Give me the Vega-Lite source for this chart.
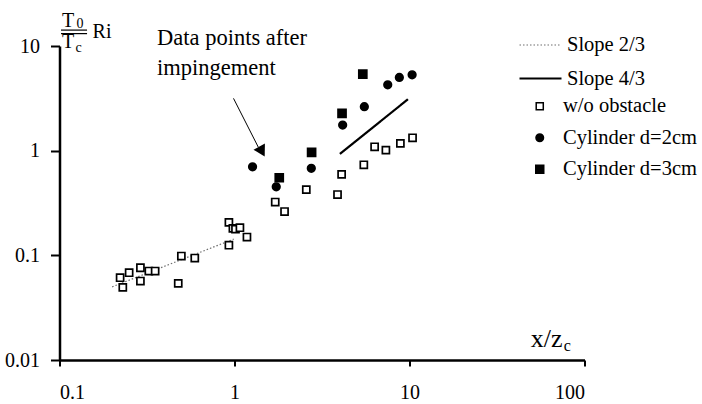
{
  "$schema": "https://vega.github.io/schema/vega-lite/v6.json",
  "width": 525,
  "height": 314,
  "autosize": {"type": "none"},
  "padding": {"left": 59.5, "top": 46, "right": 117.5, "bottom": 44},
  "background": "white",
  "config": {
    "view": {"stroke": null},
    "font": "Liberation Serif",
    "axis": {"grid": false, "domainColor": "black", "domainWidth": 2.5, "tickColor": "black", "tickWidth": 2, "labelFont": "Liberation Serif", "labelFontSize": 20, "labelColor": "black", "title": null},
    "legend": {"labelFont": "Liberation Serif", "labelFontSize": 20.5, "labelColor": "black", "padding": 0}
  },
  "encoding": {
    "x": {"field": "x", "type": "quantitative", "scale": {"type": "log", "domain": [0.1, 100]},
      "axis": {"values": [0.1, 1, 10, 100], "format": "~g", "tickSize": 6, "labelPadding": 16, "title": null,
        "encode": {"ticks": {"update": {"y": {"value": -8}}}}}},
    "y": {"field": "y", "type": "quantitative", "scale": {"type": "log", "domain": [0.01, 10]},
      "axis": {"values": [0.01, 0.1, 1, 10], "format": "~g", "tickSize": 9, "labelPadding": 11, "title": null,
        "encode": {"ticks": {"update": {"x": {"value": 8}}}}}}
  },
  "layer": [
    {
      "data": {"values": [
        {"line": "Slope 2/3", "x": 0.2, "y": 0.05},
        {"line": "Slope 2/3", "x": 0.99, "y": 0.143},
        {"line": "Slope 4/3", "x": 4.0, "y": 0.93},
        {"line": "Slope 4/3", "x": 9.8, "y": 3.1}
      ]},
      "mark": {"type": "line"},
      "encoding": {
        "stroke": {"field": "line", "type": "nominal", "scale": {"domain": ["Slope 2/3", "Slope 4/3"], "range": ["#6e6e6e", "black"]},
          "legend": {"title": null, "orient": "none", "legendX": 458.5, "legendY": -23, "symbolType": "stroke", "symbolSize": 1764, "labelOffset": 4, "rowPadding": -4}},
        "strokeDash": {"field": "line", "type": "nominal", "scale": {"domain": ["Slope 2/3", "Slope 4/3"], "range": [[1.5, 2], [1, 0]]}, "legend": {"title": null}},
        "strokeWidth": {"field": "line", "type": "nominal", "scale": {"domain": ["Slope 2/3", "Slope 4/3"], "range": [1.2, 2.2]}, "legend": {"title": null}}
      }
    },
    {
      "data": {"values": [
        {"kind": "w/o obstacle", "x": 0.222, "y": 0.0611},
        {"kind": "w/o obstacle", "x": 0.230, "y": 0.0494},
        {"kind": "w/o obstacle", "x": 0.250, "y": 0.0682},
        {"kind": "w/o obstacle", "x": 0.290, "y": 0.0761},
        {"kind": "w/o obstacle", "x": 0.290, "y": 0.0568},
        {"kind": "w/o obstacle", "x": 0.324, "y": 0.0708},
        {"kind": "w/o obstacle", "x": 0.352, "y": 0.0708},
        {"kind": "w/o obstacle", "x": 0.477, "y": 0.0540},
        {"kind": "w/o obstacle", "x": 0.497, "y": 0.0985},
        {"kind": "w/o obstacle", "x": 0.593, "y": 0.0942},
        {"kind": "w/o obstacle", "x": 0.929, "y": 0.2065},
        {"kind": "w/o obstacle", "x": 0.979, "y": 0.181},
        {"kind": "w/o obstacle", "x": 1.013, "y": 0.178},
        {"kind": "w/o obstacle", "x": 1.074, "y": 0.1835},
        {"kind": "w/o obstacle", "x": 0.929, "y": 0.125},
        {"kind": "w/o obstacle", "x": 1.178, "y": 0.1496},
        {"kind": "w/o obstacle", "x": 1.709, "y": 0.323},
        {"kind": "w/o obstacle", "x": 1.932, "y": 0.262},
        {"kind": "w/o obstacle", "x": 2.572, "y": 0.425},
        {"kind": "w/o obstacle", "x": 3.879, "y": 0.381},
        {"kind": "w/o obstacle", "x": 4.094, "y": 0.594},
        {"kind": "w/o obstacle", "x": 5.483, "y": 0.733},
        {"kind": "w/o obstacle", "x": 6.32, "y": 1.089},
        {"kind": "w/o obstacle", "x": 7.33, "y": 1.013},
        {"kind": "w/o obstacle", "x": 8.87, "y": 1.174},
        {"kind": "w/o obstacle", "x": 10.41, "y": 1.328},
        {"kind": "Cylinder d=2cm", "x": 1.268, "y": 0.701},
        {"kind": "Cylinder d=2cm", "x": 1.732, "y": 0.452},
        {"kind": "Cylinder d=2cm", "x": 2.747, "y": 0.678},
        {"kind": "Cylinder d=2cm", "x": 4.15, "y": 1.756},
        {"kind": "Cylinder d=2cm", "x": 5.52, "y": 2.63},
        {"kind": "Cylinder d=2cm", "x": 7.51, "y": 4.26},
        {"kind": "Cylinder d=2cm", "x": 8.75, "y": 5.01},
        {"kind": "Cylinder d=2cm", "x": 10.35, "y": 5.31},
        {"kind": "Cylinder d=3cm", "x": 1.802, "y": 0.551},
        {"kind": "Cylinder d=3cm", "x": 2.758, "y": 0.965},
        {"kind": "Cylinder d=3cm", "x": 4.116, "y": 2.27},
        {"kind": "Cylinder d=3cm", "x": 5.41, "y": 5.39}
      ]},
      "mark": {"type": "point", "stroke": "black", "strokeWidth": 1.7, "opacity": 1},
      "encoding": {
        "shape": {"field": "kind", "type": "nominal", "scale": {"domain": ["w/o obstacle", "Cylinder d=2cm", "Cylinder d=3cm"], "range": ["square", "circle", "square"]},
          "legend": {"title": null, "orient": "none", "legendX": 470, "legendY": 50, "labelOffset": 13, "rowPadding": 10.5}},
        "fill": {"field": "kind", "type": "nominal", "scale": {"domain": ["w/o obstacle", "Cylinder d=2cm", "Cylinder d=3cm"], "range": ["white", "black", "black"]}, "legend": {"title": null}},
        "size": {"field": "kind", "type": "ordinal", "scale": {"domain": ["w/o obstacle", "Cylinder d=2cm", "Cylinder d=3cm"], "range": [50, 64, 115]}, "legend": {"title": null}}
      }
    },
    {
      "data": {"values": [{"x": 0.987, "y": 3.16, "x2": 1.367, "y2": 1.082}]},
      "mark": {"type": "rule", "color": "black", "strokeWidth": 1},
      "encoding": {"x2": {"field": "x2"}, "y2": {"field": "y2"}}
    },
    {
      "data": {"values": [{"x": 1.435, "y": 0.98}]},
      "mark": {"type": "point", "shape": "triangle-down", "angle": 331, "filled": true, "color": "black", "size": 170, "opacity": 1}
    },
    {
      "data": {"values": [{"x": 0.102, "x2": 0.1437, "y": 14.19}, {"x": 0.102, "x2": 0.1437, "y": 13.13}]},
      "mark": {"type": "rule", "color": "black", "strokeWidth": 1.2},
      "encoding": {"x2": {"field": "x2"}}
    },
    {
      "data": {"values": [
        {"t": "T", "x": 0.1119, "y": 17.29},
        {"t": "T", "x": 0.1119, "y": 10.9},
        {"t": "Ri", "x": 0.175, "y": 13.58}
      ]},
      "mark": {"type": "text", "font": "Liberation Serif", "fontSize": 20, "align": "center", "baseline": "middle", "color": "black"},
      "encoding": {"text": {"field": "t"}}
    },
    {
      "data": {"values": [
        {"t": "0", "x": 0.131, "y": 16.19},
        {"t": "c", "x": 0.1284, "y": 9.65}
      ]},
      "mark": {"type": "text", "font": "Liberation Serif", "fontSize": 14, "align": "center", "baseline": "middle", "color": "black"},
      "encoding": {"text": {"field": "t"}}
    },
    {
      "data": {"values": [
        {"t": "Data points after", "x": 0.361, "y": 10.2},
        {"t": "impingement", "x": 0.361, "y": 5.27}
      ]},
      "mark": {"type": "text", "font": "Liberation Serif", "fontSize": 22.5, "align": "left", "baseline": "alphabetic", "color": "black"},
      "encoding": {"text": {"field": "t"}}
    },
    {
      "data": {"values": [{"t": "x/z", "x": 60.7, "y": 0.0133}]},
      "mark": {"type": "text", "font": "Liberation Serif", "fontSize": 26, "align": "center", "baseline": "alphabetic", "color": "black"},
      "encoding": {"text": {"field": "t"}}
    },
    {
      "data": {"values": [{"t": "c", "x": 79.7, "y": 0.0122}]},
      "mark": {"type": "text", "font": "Liberation Serif", "fontSize": 16, "align": "center", "baseline": "alphabetic", "color": "black"},
      "encoding": {"text": {"field": "t"}}
    }
  ]
}
